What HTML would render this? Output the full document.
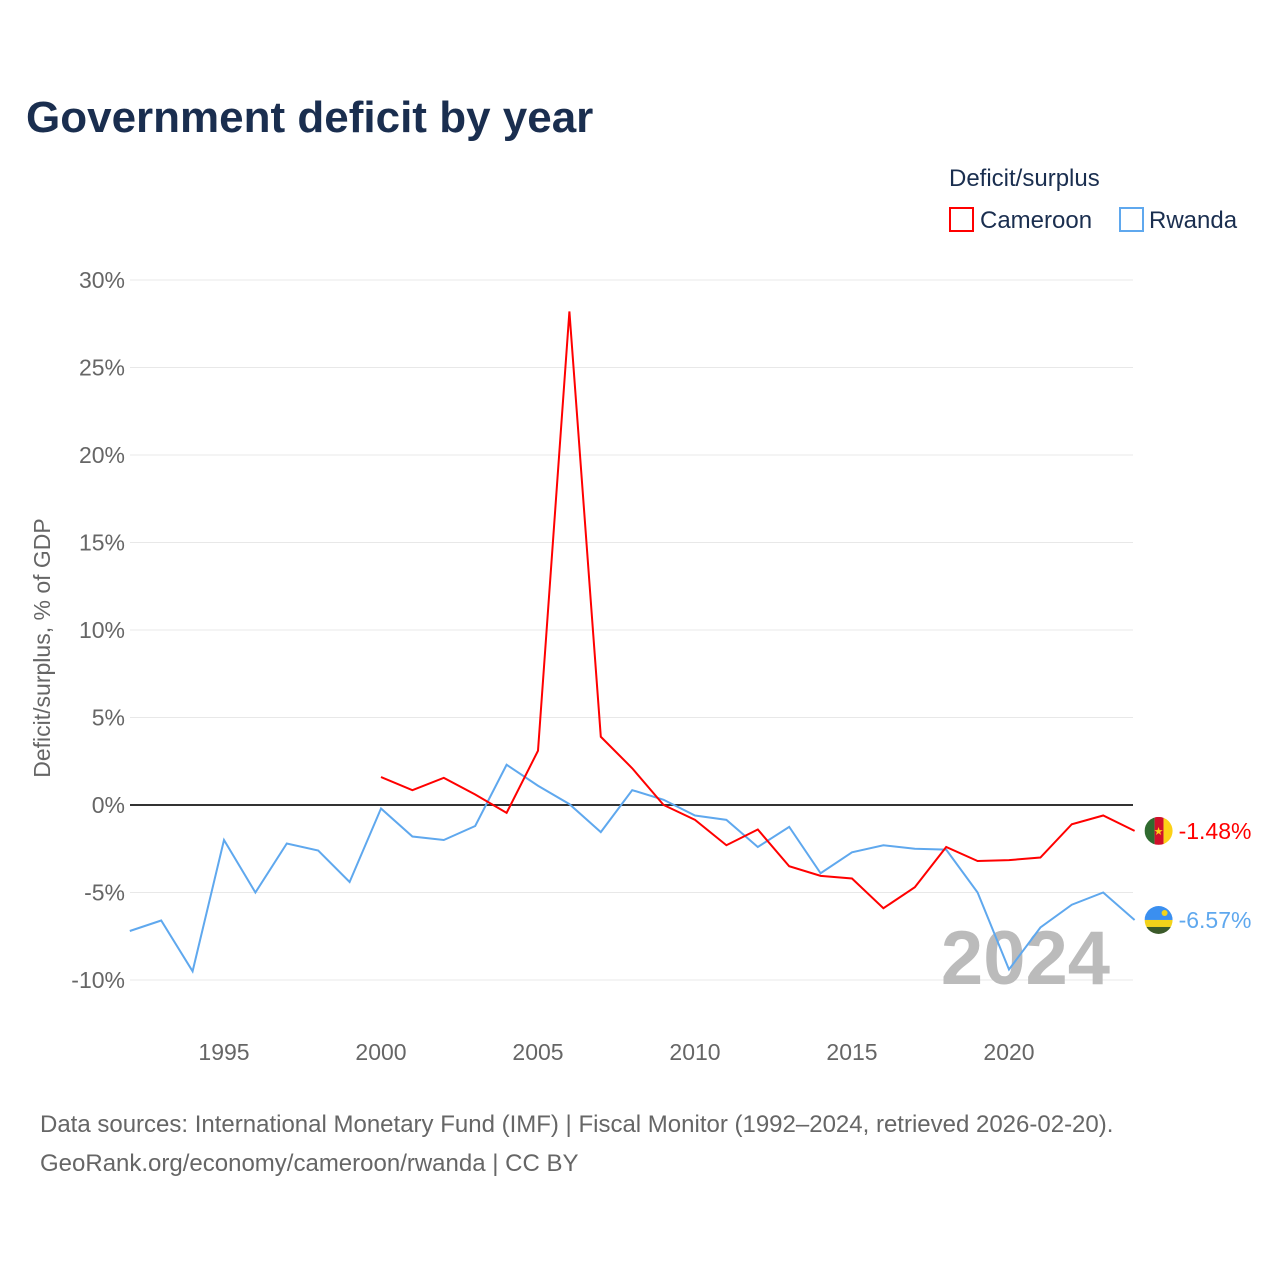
<!DOCTYPE html>
<html><head><meta charset="utf-8"><style>
body{margin:0;background:#fff;font-family:"Liberation Sans",sans-serif;}
svg text{font-family:"Liberation Sans",sans-serif;}
</style></head><body>
<svg id="chart" width="1280" height="1280" xmlns="http://www.w3.org/2000/svg">
<defs>
<clipPath id="cf1"><circle cx="1158.6" cy="830.9" r="14"/></clipPath>
<clipPath id="cf2"><circle cx="1158.6" cy="920" r="14"/></clipPath>
</defs>
<text x="26" y="132" font-size="44" font-weight="bold" fill="#1a2e4f">Government deficit by year</text>
<text x="949" y="186" font-size="24" fill="#1a2e4f">Deficit/surplus</text>
<g><rect x="950" y="208" width="23" height="23" fill="none" stroke="#ff0000" stroke-width="2"/><text x="980" y="228" font-size="24" fill="#1a2e4f">Cameroon</text></g>
<g><rect x="1120" y="208" width="23" height="23" fill="none" stroke="#5fa8ee" stroke-width="2"/><text x="1149" y="228" font-size="24" fill="#1a2e4f">Rwanda</text></g>
<text transform="translate(50,648) rotate(-90)" text-anchor="middle" font-size="23" fill="#666">Deficit/surplus, % of GDP</text>
<g id="grid"></g><g id="xt"></g>
<text x="1110" y="984" text-anchor="end" font-size="76" font-weight="bold" fill="#bbb">2024</text>
<g id="series"></g>
<text x="40" y="1132" font-size="24" fill="#666">Data sources: International Monetary Fund (IMF) | Fiscal Monitor (1992–2024, retrieved 2026-02-20).</text>
<text x="40" y="1171" font-size="24" fill="#666">GeoRank.org/economy/cameroon/rwanda | CC BY</text>
</svg>
<script>
const yTicks=[30,25,20,15,10,5,0,-5,-10];
const xTicks=[1995,2000,2005,2010,2015,2020];
const rwYears=[1992,1993,1994,1995,1996,1997,1998,1999,2000,2001,2002,2003,2004,2005,2006,2007,2008,2009,2010,2011,2012,2013,2014,2015,2016,2017,2018,2019,2020,2021,2022,2023,2024];
const rwanda=[-7.2,-6.6,-9.5,-2.0,-5.0,-2.2,-2.6,-4.4,-0.2,-1.8,-2.0,-1.2,2.3,1.1,0.05,-1.55,0.85,0.3,-0.6,-0.85,-2.4,-1.25,-3.9,-2.7,-2.3,-2.5,-2.55,-5.0,-9.4,-7.0,-5.7,-5.0,-6.57];
const cmYears=[2000,2001,2002,2003,2004,2005,2006,2007,2008,2009,2010,2011,2012,2013,2014,2015,2016,2017,2018,2019,2020,2021,2022,2023,2024];
const cameroon=[1.6,0.85,1.55,0.6,-0.45,3.1,28.2,3.9,2.1,0,-0.85,-2.3,-1.4,-3.5,-4.05,-4.2,-5.9,-4.7,-2.4,-3.2,-3.15,-3.0,-1.1,-0.6,-1.48];
const X=y=>129.8+(y-1992)*31.4, Y=v=>805-v*17.5;
const NS="http://www.w3.org/2000/svg";
const mk=(t,a,p)=>{const e=document.createElementNS(NS,t);for(const k in a)e.setAttribute(k,a[k]);p.appendChild(e);return e;};
const g=document.getElementById('grid');
yTicks.forEach(v=>{
 const l=mk('line',{x1:130,x2:1133,y1:Y(v),y2:Y(v),stroke:v===0?'#333':'#e8e8e8','stroke-width':v===0?2:1},g);
 
 
 const t=mk('text',{x:125,y:Y(v)+8,'text-anchor':'end','font-size':23,fill:'#666'},g);
 t.textContent=v+'%';
 
 
});
const xt=document.getElementById('xt');
xTicks.forEach(y=>{
 const t=mk('text',{x:X(y),y:1060,'text-anchor':'middle','font-size':23,fill:'#666'},xt);
 t.textContent=y;
 
 
});
const s=document.getElementById('series');
function line(ys,vs,c,name,flag){
 const p=mk('polyline',{points:ys.map((y,i)=>X(y)+','+Y(vs[i])).join(' '),fill:'none',stroke:c,'stroke-width':2},s);
 
 
 const last=vs[vs.length-1], lx=X(ys[ys.length-1]), cy=Y(last), cx=lx+24;
 const fg=mk('g',{},s);
 
 
 if(flag==='cm'){
  fg.setAttribute('clip-path','url(#cf1)');
  mk('rect',{x:cx-14,y:cy-14,width:10,height:28,fill:'#2f6b2f'},fg);
  mk('rect',{x:cx-4,y:cy-14,width:9,height:28,fill:'#d0102a'},fg);
  mk('rect',{x:cx+5,y:cy-14,width:10,height:28,fill:'#fcd116'},fg);
  mk('text',{x:cx,y:cy+4,'text-anchor':'middle','font-size':11,fill:'#fcd116'},fg).textContent='★';
 } else {
  fg.setAttribute('clip-path','url(#cf2)');
  mk('rect',{x:cx-14,y:cy-14,width:28,height:14,fill:'#3a8ff0'},fg);
  mk('rect',{x:cx-14,y:cy,width:28,height:7,fill:'#f2d31a'},fg);
  mk('rect',{x:cx-14,y:cy+7,width:28,height:7,fill:'#3b5a2a'},fg);
  mk('circle',{cx:cx+6,cy:cy-7,r:3,fill:'#f2d31a'},fg);
 }
 const t=mk('text',{x:lx+44,y:cy+8,'font-size':23,fill:c},s);
 t.textContent=last.toFixed(2)+'%';
 
 
}
line(rwYears,rwanda,'#5fa8ee','rwanda-line','rw');
line(cmYears,cameroon,'#ff0000','cameroon-line','cm');
</script>
</body></html>
